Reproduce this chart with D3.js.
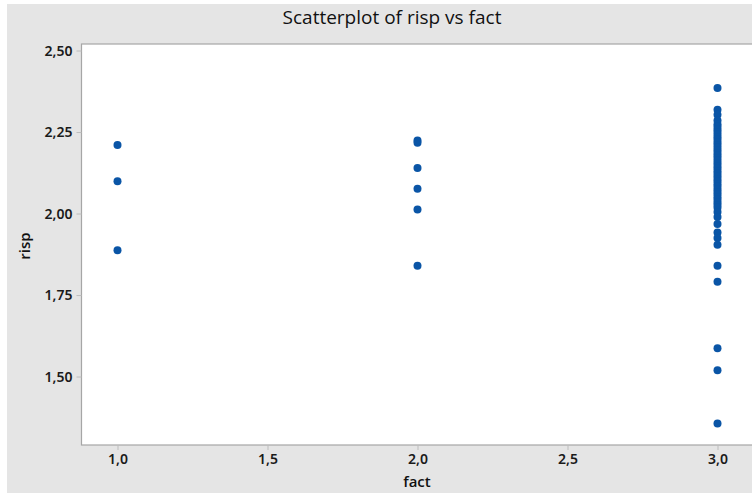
<!DOCTYPE html>
<html lang="en">
<head>
  <meta charset="UTF-8" />
  <title>Scatterplot of risp vs fact</title>
  <style>
    html, body {
      margin: 0;
      padding: 0;
      background: #fff;
    }
    svg {
      display: block;
      font-family: "Open Sans", "Noto Sans", sans-serif;
    }
  </style>
</head>
<body>
<script src="https://d3js.org/d3.v7.min.js"></script>
<script>
  // values
  const fact1 = [2.210, 2.099, 1.887];
  const fact2 = [2.224, 2.217, 2.140, 2.076, 2.012, 1.840];
  const fact3 = [
    2.385, 2.318, 2.303, 2.285, 2.274, 2.266, 2.258, 2.250, 2.242, 2.234,
    2.226, 2.218, 2.210, 2.202, 2.194, 2.186, 2.178, 2.170, 2.162, 2.154,
    2.146, 2.138, 2.130, 2.122, 2.114, 2.106, 2.098, 2.090, 2.082, 2.074,
    2.066, 2.058, 2.050, 2.042, 2.034, 2.026, 2.018, 2.005, 1.989, 1.968,
    1.942, 1.925, 1.904, 1.840, 1.791, 1.587, 1.519, 1.356
  ];
  const xTicks = [1.0, 1.5, 2.0, 2.5, 3.0];
  const yTicks = [1.50, 1.75, 2.00, 2.25, 2.50];

  const points = [
    ...fact1.map(v => ({fact: 1, risp: v})),
    ...fact2.map(v => ({fact: 2, risp: v})),
    ...fact3.map(v => ({fact: 3, risp: v}))
  ];

  const width = 752;
  const height = 493;

  const x = d3.scaleLinear().domain([0.88, 3.12]).range([81.5, 753.5]);
  const y = d3.scaleLinear().domain([1.29, 2.52]).range([445, 44]);

  const fmt = (d, n) => d.toFixed(n).replace(".", ",");

  const svg = d3.select("body").append("svg")
    .attr("width", width)
    .attr("height", height);

  // grey backdrop, with a thin white edge at left and top
  svg.append("rect")
    .attr("x", 7).attr("y", 4)
    .attr("width", width - 7).attr("height", height - 4)
    .attr("fill", "#e5e5e5");

  // data area
  svg.append("rect")
    .attr("x", x.range()[0]).attr("y", y.range()[1])
    .attr("width", x.range()[1] - x.range()[0])
    .attr("height", y.range()[0] - y.range()[1])
    .attr("fill", "#fff")
    .attr("stroke", "#a6a6a6")
    .attr("stroke-width", 1.2);

  const xAxis = svg.append("g")
    .attr("transform", `translate(0,${y.range()[0]})`)
    .call(d3.axisBottom(x).tickValues(xTicks).tickFormat(d => fmt(d, 1)).tickSize(5).tickPadding(4));

  const yAxis = svg.append("g")
    .attr("transform", `translate(${x.range()[0]},0)`)
    .call(d3.axisLeft(y).tickValues(yTicks).tickFormat(d => fmt(d, 2)).tickSize(5).tickPadding(4));

  [xAxis, yAxis].forEach(g => {
    g.select(".domain").remove();
    g.selectAll(".tick line").attr("stroke", "#bdbdbd");
    g.selectAll(".tick text")
      .attr("fill", "#1a1a1a")
      .attr("font-size", 14)
      .attr("font-weight", 600)
      .attr("font-family", "'Noto Sans', 'Open Sans', sans-serif");
  });

  svg.selectAll("circle.pt")
    .data(points)
    .join("circle")
    .attr("class", "pt")
    .attr("cx", d => x(d.fact))
    .attr("cy", d => y(d.risp))
    .attr("r", 4)
    .attr("fill", "#0a55a6");

  svg.append("text")
    .attr("x", 392)
    .attr("y", 24)
    .attr("text-anchor", "middle")
    .attr("font-size", 19)
    .attr("font-weight", 500)
    .attr("fill", "#111")
    .text("Scatterplot of risp vs fact");

  svg.append("text")
    .attr("x", 417)
    .attr("y", 487)
    .attr("text-anchor", "middle")
    .attr("font-size", 15)
    .attr("font-weight", 600)
    .attr("fill", "#111")
    .text("fact");

  svg.append("text")
    .attr("transform", "translate(30,246) rotate(-90)")
    .attr("text-anchor", "middle")
    .attr("font-size", 15)
    .attr("font-weight", 600)
    .attr("fill", "#111")
    .text("risp");
</script>
</body>
</html>
